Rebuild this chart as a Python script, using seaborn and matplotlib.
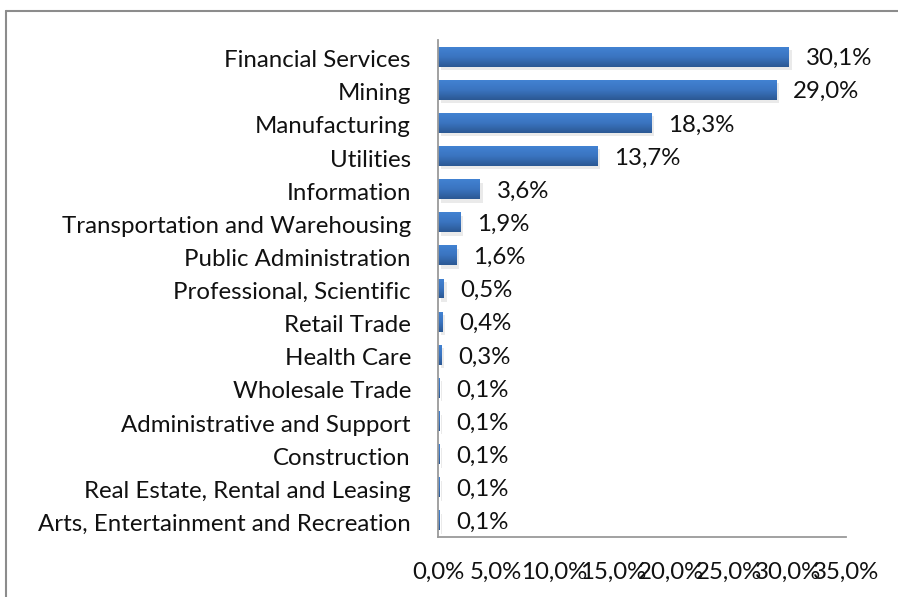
import numpy as np
import pandas as pd
import matplotlib
matplotlib.use("Agg")
import matplotlib.pyplot as plt
import matplotlib.patheffects as pe
from matplotlib.lines import Line2D
from matplotlib.colors import LinearSegmentedColormap
from matplotlib.transforms import ScaledTranslation
import seaborn as sns

industries = [
    "Financial Services", "Mining", "Manufacturing", "Utilities", "Information",
    "Transportation and Warehousing", "Public Administration",
    "Professional, Scientific", "Retail Trade", "Health Care", "Wholesale Trade",
    "Administrative and Support", "Construction",
    "Real Estate, Rental and Leasing", "Arts, Entertainment and Recreation",
]
shares = [30.1, 29.0, 18.3, 13.7, 3.6, 1.9, 1.6, 0.5, 0.4, 0.3, 0.1, 0.1, 0.1, 0.1, 0.1]
xticks = [0, 5, 10, 15, 20, 25, 30, 35]

df = pd.DataFrame({"industry": industries, "share": shares})

sns.set_theme(style="white")
plt.rcParams["font.family"] = ["Lato", "DejaVu Sans"]
FS = 17.3

fig = plt.figure(figsize=(8.98, 5.97), dpi=100)
ax = fig.add_axes([438 / 898, 1 - 537 / 597, 408 / 898, 497 / 597])

sns.barplot(data=df, x="share", y="industry", orient="h", color="#3569b0",
            width=0.6, ax=ax, saturation=1)

ax.set_xlim(0, 35)
ax.set_ylim(len(industries) - 0.5, -0.5)

grad = LinearSegmentedColormap.from_list("bar", ["#4282d2", "#3a74c0", "#2b5893"])
gimg = np.linspace(0, 1, 64).reshape(-1, 1)
for p in ax.patches:
    p.set_edgecolor("none")
    p.set_path_effects([pe.SimplePatchShadow(offset=(2, -2.5), shadow_rgbFace="#a0a0a0",
                                             alpha=0.22), pe.Normal()])
    x0, y0 = p.get_x(), p.get_y()
    w, h = p.get_width(), p.get_height()
    im = ax.imshow(gimg, cmap=grad, aspect="auto", extent=(x0, x0 + w, y0 + h, y0),
                   zorder=p.get_zorder() + 0.1, interpolation="bilinear")
    im.set_clip_path(p)

ax.set_xlim(0, 35)
ax.set_ylim(len(industries) - 0.5, -0.5)

for i, v in enumerate(shares):
    ax.annotate(f"{v:.1f}%".replace(".", ","), xy=(v, i), xytext=(12, -1.5),
                textcoords="offset points", va="center", ha="left", fontsize=FS,
                color="#111111")

ax.set_xticks(xticks)
ax.set_xticklabels([f"{t:.1f}%".replace(".", ",") for t in xticks])
ax.set_xlabel("")
ax.set_ylabel("")
ax.tick_params(axis="x", length=0, pad=18, labelsize=FS, labelcolor="#111111")
ax.tick_params(axis="y", length=0, pad=19.5, labelsize=FS, labelcolor="#111111")

shift = ScaledTranslation(0, -1.5 / 72, fig.dpi_scale_trans)
for lab in ax.get_yticklabels():
    lab.set_transform(lab.get_transform() + shift)

for side in ["top", "right"]:
    ax.spines[side].set_visible(False)
for side in ["left", "bottom"]:
    ax.spines[side].set_color("#9a9a9a")
    ax.spines[side].set_linewidth(1.3)

# outer chart border (continues past the canvas edge on the right and bottom)
fig.add_artist(Line2D([6 / 898, 1.0], [1 - 11 / 597] * 2, color="#8c8c8c", lw=1.5,
                      transform=fig.transFigure))
fig.add_artist(Line2D([6 / 898] * 2, [0.0, 1 - 11 / 597], color="#8c8c8c", lw=1.5,
                      transform=fig.transFigure))

fig.savefig("out.png", dpi=100)
